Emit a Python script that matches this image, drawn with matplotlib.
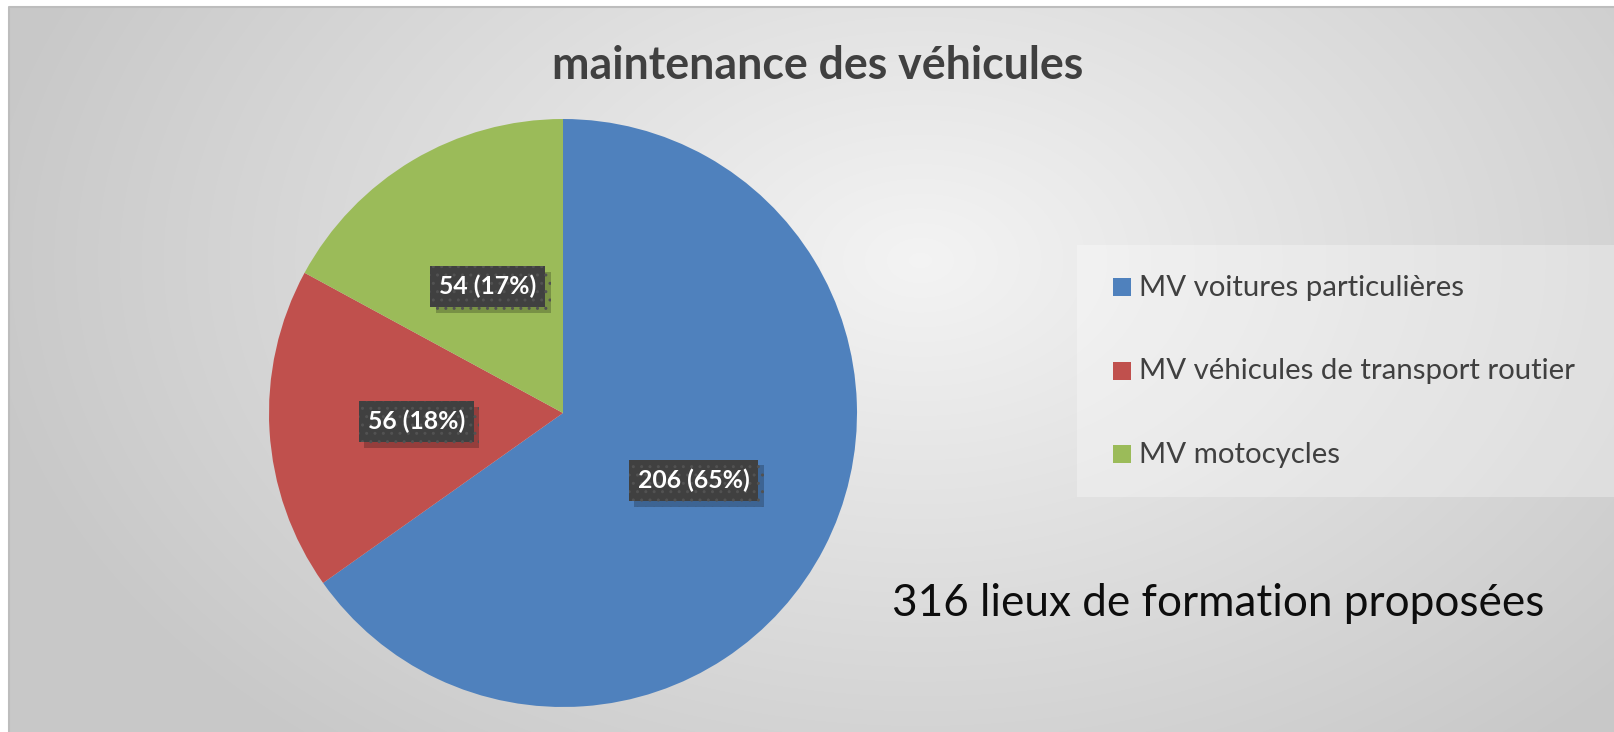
import numpy as np
import matplotlib
matplotlib.use('Agg')
import matplotlib.pyplot as plt
from matplotlib.patches import Rectangle
import matplotlib.patheffects as pe

# ---- data ----
categories = ["MV voitures particulières",
              "MV véhicules de transport routier",
              "MV motocycles"]
values = [206, 56, 54]
colors = ["#4f81bd", "#c0504d", "#9bbb59"]
title = "maintenance des véhicules"
note = "316 lieux de formation proposées"

W, H = 1614, 732
DPI = 100
FONT = ["Lato", "DejaVu Sans"]
fig = plt.figure(figsize=(W / DPI, H / DPI), dpi=DPI)
fig.patch.set_facecolor('white')

# ---- background with radial gradient ----
bg = fig.add_axes([0, 0, 1, 1], zorder=0)
bg.set_xlim(0, W)
bg.set_ylim(H, 0)
bg.axis('off')
yy, xx = np.mgrid[0:H, 0:W]
cx, cy = 920, 260
d = np.sqrt(((xx - cx) / 950) ** 2 + ((yy - cy) / 640) ** 2)
d = np.clip(d, 0, 1)
val = 0.955 - (0.955 - 0.785) * d ** 1.0
img = np.dstack([val, val, val])
img[:6, :] = 1
img[:, :8] = 1
bg.imshow(img, extent=(0, W, H, 0), interpolation='bilinear', aspect='auto')
bg.add_patch(Rectangle((8.5, 6.5), W, H, fill=False, edgecolor='#bdbdbd', lw=1.5))
# legend area
bg.add_patch(Rectangle((1077, 245), 540, 252, facecolor='white', alpha=0.3,
                       edgecolor='none'))

# ---- pie ----
R = 294
pcx, pcy = 563, 413
ax = fig.add_axes([(pcx - R) / W, 1 - (pcy + R) / H, 2 * R / W, 2 * R / H], zorder=2)
total = sum(values)


def fmt(p):
    return f"{int(round(p * total / 100))} ({p:.0f}%)"


wedges, texts, autotexts = ax.pie(values, colors=colors, startangle=90,
                                  counterclock=False, radius=1, autopct=fmt,
                                  pctdistance=0.5, wedgeprops=dict(linewidth=0))
ax.set_xlim(-1, 1)
ax.set_ylim(-1, 1)
ax.axis('off')

for t in autotexts:
    t.set_color('white')
    t.set_fontweight('bold')
    t.set_family(FONT)
    t.set_fontsize(17)
    t.set_bbox(dict(boxstyle='square,pad=0.36', facecolor='#404040',
                    edgecolor='#525252', linewidth=0, hatch='..'))
    t.set_zorder(4)

# title / note / legend texts
ttl = fig.text(818 / W, 1 - 79 / H, title, ha='center', va='baseline',
               fontsize=26, fontweight='bold', color='#404040', family=FONT)
nt = fig.text(1218 / W, 1 - 616 / H, note, ha='center', va='baseline',
              fontsize=28, color='#0d0d0d', family=FONT)

leg_texts = []
for i, (cat, col) in enumerate(zip(categories, colors)):
    yb = 296 + i * 83.5
    bg.add_patch(Rectangle((1113, yb - 18), 18, 18, facecolor=col, edgecolor='none'))
    leg_texts.append(bg.text(1139, yb, cat, ha='left', va='baseline', fontsize=17,
                             color='#404040', family=FONT))

# fit text widths
fig.canvas.draw()
r = fig.canvas.get_renderer()


def fit(t, target):
    w = t.get_window_extent(r).width
    t.set_fontsize(t.get_fontsize() * target / w)


fit(ttl, 531)
fit(nt, 652)
s = leg_texts[0].get_fontsize()
w0 = leg_texts[0].get_window_extent(r).width
for t in leg_texts:
    t.set_fontsize(s * 325 / w0)

fs = autotexts[0].get_fontsize()
tmp = fig.text(0, 0, autotexts[0].get_text(), fontsize=fs, fontweight='bold', family=FONT)
tw = tmp.get_window_extent(r).width
tmp.remove()
newfs = fs * 112 / tw
for t in autotexts:
    t.set_fontsize(newfs)
    t.get_bbox_patch().set_path_effects(
        [pe.SimplePatchShadow(offset=(4, -4), shadow_rgbFace='black', alpha=0.22),
         pe.Normal()])

fig.savefig('out.png', dpi=DPI)
